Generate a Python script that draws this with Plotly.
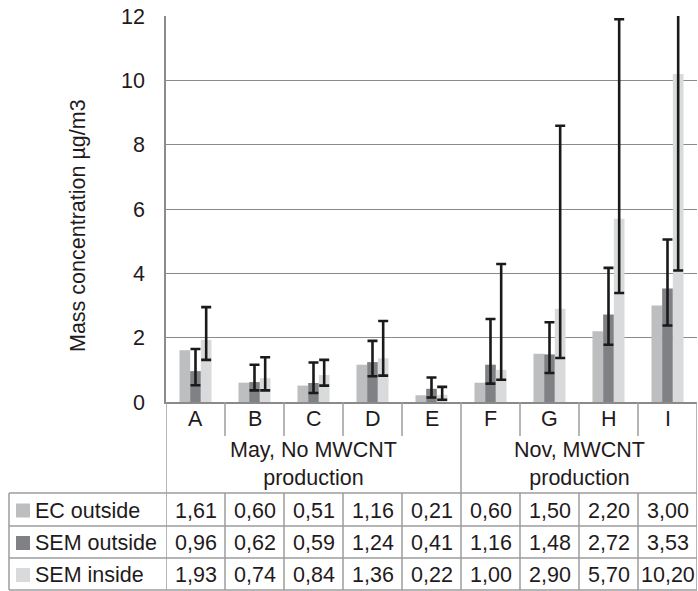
import plotly.graph_objects as go

categories = ["A", "B", "C", "D", "E", "F", "G", "H", "I"]
series_names = ["EC outside", "SEM outside", "SEM inside"]
ec_outside = [1.61, 0.60, 0.51, 1.16, 0.21, 0.60, 1.50, 2.20, 3.00]
sem_outside = [0.96, 0.62, 0.59, 1.24, 0.41, 1.16, 1.48, 2.72, 3.53]
sem_inside = [1.93, 0.74, 0.84, 1.36, 0.22, 1.00, 2.90, 5.70, 10.20]

# error bar bounds
sem_outside_upper = [1.65, 1.16, 1.23, 1.90, 0.76, 2.58, 2.48, 4.17, 5.05]
sem_outside_lower = [0.52, 0.36, 0.28, 0.80, 0.14, 0.57, 0.90, 1.78, 2.38]
sem_inside_upper = [2.95, 1.39, 1.31, 2.52, 0.47, 4.29, 8.59, 11.90, 16.30]
sem_inside_lower = [1.31, 0.36, 0.51, 0.82, 0.07, 0.69, 1.37, 3.39, 4.09]

group_labels = ["May, No MWCNT<br>production", "Nov, MWCNT<br>production"]
group_members = [["A", "B", "C", "D", "E"], ["F", "G", "H", "I"]]
y_ticks = [0, 2, 4, 6, 8, 10, 12]

colors = ["#bdbec0", "#808184", "#d9dadb"]
FONT = "Liberation Sans, Arial, sans-serif"
FS = 21.5
TXT = "#1f1b1c"
LINE = "#9c9c9c"

W, H = 698, 591
ML, MR, MT, MB = 166, 1, 16, 189
PW = W - ML - MR
PH = H - MT - MB


def py(p):  # pixel y -> paper y
    return (H - MB - p) / PH


def px(p):  # pixel x -> paper x
    return (p - ML) / PW


fig = go.Figure()
fig.add_trace(go.Bar(x=categories, y=ec_outside, name=series_names[0],
                     marker=dict(color=colors[0], line=dict(width=0))))
fig.add_trace(go.Bar(
    x=categories, y=sem_outside, name=series_names[1],
    marker=dict(color=colors[1], line=dict(width=0)),
    error_y=dict(type="data", symmetric=False,
                 array=[u - v for u, v in zip(sem_outside_upper, sem_outside)],
                 arrayminus=[v - l for v, l in zip(sem_outside, sem_outside_lower)],
                 color="#1a1a1a", thickness=2.6, width=5)))
fig.add_trace(go.Bar(
    x=categories, y=sem_inside, name=series_names[2],
    marker=dict(color=colors[2], line=dict(width=0)),
    error_y=dict(type="data", symmetric=False,
                 array=[u - v for u, v in zip(sem_inside_upper, sem_inside)],
                 arrayminus=[v - l for v, l in zip(sem_inside, sem_inside_lower)],
                 color="#1a1a1a", thickness=2.6, width=5)))

shapes = []
annotations = []
n = len(categories)

cat_row_bottom = 436
group_row_bottom = 493
row_lines = [493, 526, 558, 590]
table_left_px = 9

# vertical lines
for i in range(n + 1):
    xb = i - 0.5
    if i in (0, n) or i == len(group_members[0]):
        shapes.append(dict(type="line", xref="x", yref="paper", x0=xb, x1=xb,
                           y0=py(402), y1=py(590), line=dict(color=LINE, width=1.5)))
    else:
        shapes.append(dict(type="line", xref="x", yref="paper", x0=xb, x1=xb,
                           y0=py(402), y1=py(cat_row_bottom), line=dict(color=LINE, width=1.5)))
        shapes.append(dict(type="line", xref="x", yref="paper", x0=xb, x1=xb,
                           y0=py(group_row_bottom), y1=py(590), line=dict(color=LINE, width=1.5)))
shapes.append(dict(type="line", xref="paper", yref="paper", x0=px(table_left_px), x1=px(table_left_px),
                   y0=py(493), y1=py(590), line=dict(color=LINE, width=1.5)))
for r in row_lines:
    shapes.append(dict(type="line", xref="paper", yref="paper", x0=px(table_left_px), x1=1,
                       y0=py(r), y1=py(r), line=dict(color=LINE, width=1.5)))

for c in categories:
    annotations.append(dict(x=c, y=py(419), xref="x", yref="paper", text=c, showarrow=False,
                            xanchor="center", yanchor="middle", font=dict(size=FS, color=TXT, family=FONT)))
for lab, mem in zip(group_labels, group_members):
    center = (categories.index(mem[0]) + categories.index(mem[-1])) / 2
    annotations.append(dict(x=center, y=py(464), xref="x", yref="paper", text=lab, showarrow=False,
                            xanchor="center", yanchor="middle", align="center",
                            font=dict(size=FS, color=TXT, family=FONT)))
rows = [ec_outside, sem_outside, sem_inside]
for k, vals in enumerate(rows):
    yc = (row_lines[k] + row_lines[k + 1]) / 2 + 1
    for c, v in zip(categories, vals):
        annotations.append(dict(x=c, y=py(yc), xref="x", yref="paper",
                                text=f"{v:.2f}".replace(".", ","), showarrow=False,
                                xanchor="center", yanchor="middle",
                                font=dict(size=FS, color=TXT, family=FONT)))
    annotations.append(dict(x=px(33), y=py(yc), xref="paper", yref="paper", text=series_names[k],
                            showarrow=False, xanchor="left", yanchor="middle",
                            font=dict(size=FS, color=TXT, family=FONT)))
    shapes.append(dict(type="rect", xref="paper", yref="paper", x0=px(16), x1=px(30),
                       y0=py(yc - 7), y1=py(yc + 7), fillcolor=colors[k], line=dict(width=0)))

annotations.append(dict(x=px(78), y=py(226), xref="paper", yref="paper", text="Mass concentration µg/m3",
                        textangle=-90, showarrow=False, xanchor="center", yanchor="middle",
                        font=dict(size=FS, color=TXT, family=FONT)))

fig.update_layout(
    width=W, height=H,
    margin=dict(l=ML, r=MR, t=MT, b=MB, autoexpand=False),
    paper_bgcolor="white", plot_bgcolor="white",
    barmode="group", bargap=0.457, bargroupgap=0,
    showlegend=False,
    font=dict(family=FONT, size=FS, color=TXT),
    shapes=shapes, annotations=annotations,
)
fig.update_xaxes(type="category", categoryorder="array", categoryarray=categories,
                 showticklabels=False, ticks="", showgrid=False,
                 showline=True, linecolor="#8a8a8a", linewidth=1.6,
                 range=[-0.5, n - 0.5], fixedrange=True)
fig.update_yaxes(range=[0, 12], tickvals=y_ticks, ticktext=[str(t) for t in y_ticks],
                 showgrid=True, gridcolor="#8a8a8a", gridwidth=1.4,
                 showline=True, linecolor="#8a8a8a", linewidth=1.6,
                 ticks="", ticklabelstandoff=15, zeroline=False,
                 tickfont=dict(size=FS, color=TXT, family=FONT), fixedrange=True)

fig.write_html("out.html", config={"displayModeBar": False},
               post_script="document.body.style.margin='0';document.body.style.overflow='hidden';")
